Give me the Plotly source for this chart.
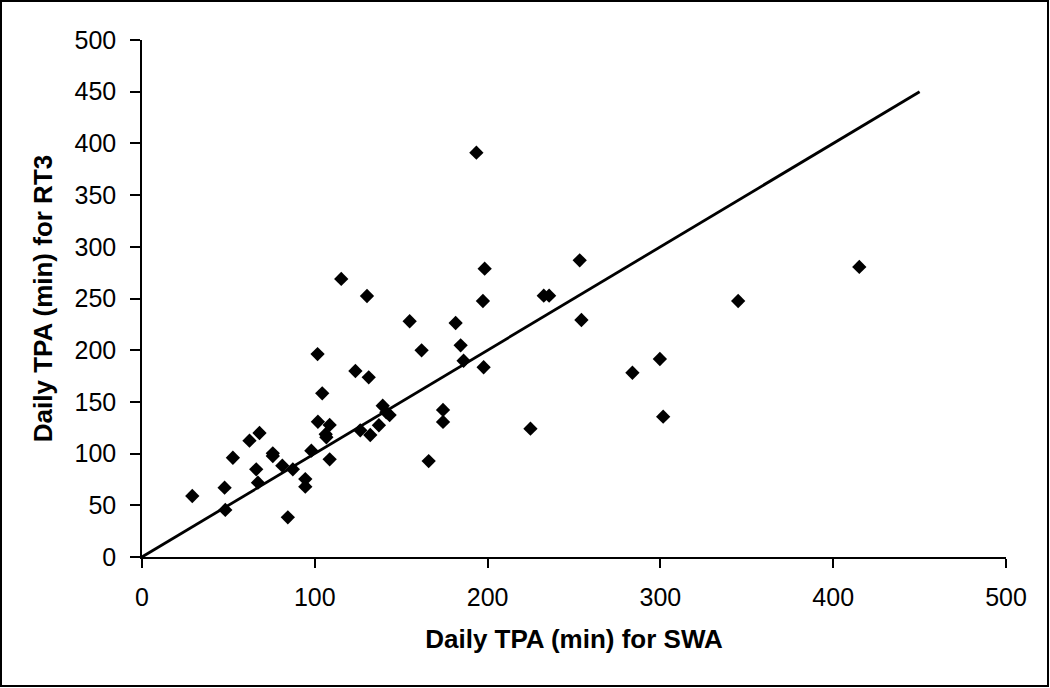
import plotly.graph_objects as go

# Data (Daily TPA minutes)
swa = [29.1, 47.8, 48.2, 52.6, 62.2, 68.0, 66.1, 67.1, 75.7, 75.7,
       81.2, 84.4, 87.3, 94.5, 94.5, 98.0, 101.8, 101.6, 104.3, 108.6,
       106.3, 106.7, 108.6, 115.3, 130.2, 123.5, 131.2, 126.3, 132.1, 137.1,
       139.3, 141.4, 143.3, 154.9, 161.8, 165.9, 174.2, 174.2, 181.5, 184.4,
       186.1, 193.5, 198.3, 197.3, 197.7, 232.5, 235.6, 253.3, 254.3, 224.8,
       283.8, 299.7, 301.6, 345.0, 415.1]
rt3 = [59.0, 67.0, 45.5, 96.0, 112.5, 119.9, 84.8, 71.9, 100.3, 97.7,
       88.3, 38.4, 84.8, 75.4, 68.0, 102.8, 130.8, 196.3, 158.3, 127.7,
       118.7, 115.8, 94.5, 268.9, 252.4, 179.9, 173.8, 122.5, 118.0, 127.4,
       146.3, 139.9, 137.3, 228.0, 199.9, 92.8, 142.2, 130.6, 226.3, 204.7,
       189.8, 391.0, 278.8, 247.6, 183.5, 252.7, 252.7, 286.9, 229.2, 124.1,
       178.2, 191.5, 135.7, 247.6, 280.5]
line_x = [0, 450]
line_y = [0, 450]
ticks = [0, 50, 100, 150, 200, 250, 300, 350, 400, 450, 500]
xticks = [0, 100, 200, 300, 400, 500]

FONT = "Liberation Sans, Arial, sans-serif"

fig = go.Figure()
fig.add_trace(go.Scatter(x=line_x, y=line_y, mode="lines",
                         line=dict(color="black", width=2.8), showlegend=False))
fig.add_trace(go.Scatter(x=swa, y=rt3, mode="markers",
                         marker=dict(symbol="diamond", size=11, color="black"),
                         showlegend=False, cliponaxis=False))

fig.update_layout(
    width=1050, height=688,
    margin=dict(l=142, r=44, t=40, b=131),
    paper_bgcolor="white", plot_bgcolor="white",
    font=dict(family=FONT, color="black", size=25),
    xaxis=dict(range=[0, 500], tickvals=xticks, showgrid=False, zeroline=False,
               showline=True, linecolor="black", linewidth=1.5,
               ticks="outside", ticklen=9, tickcolor="black", tickwidth=1.5,
               tickfont=dict(size=25), ticklabelstandoff=8,
               title=dict(text="<b>Daily TPA (min) for SWA</b>", font=dict(size=26),
                          standoff=20)),
    yaxis=dict(range=[0, 500], tickvals=ticks, showgrid=False, zeroline=False,
               showline=True, linecolor="black", linewidth=1.5,
               ticks="outside", ticklen=10, tickcolor="black", tickwidth=1.5,
               tickfont=dict(size=25), ticklabelstandoff=9,
               title=dict(text="<b>Daily TPA (min) for RT3</b>", font=dict(size=26),
                          standoff=14)),
)

fig.add_shape(type="rect", xref="paper", yref="paper",
              x0=(1 - 142) / 864, x1=(1048 - 142) / 864,
              y0=(557 - 686) / 517, y1=(557 - 1) / 517,
              line=dict(color="black", width=2), layer="above")

fig.write_html("out.html", config={"displayModeBar": False},
               post_script="document.body.style.margin='0';document.body.style.overflow='hidden';")
